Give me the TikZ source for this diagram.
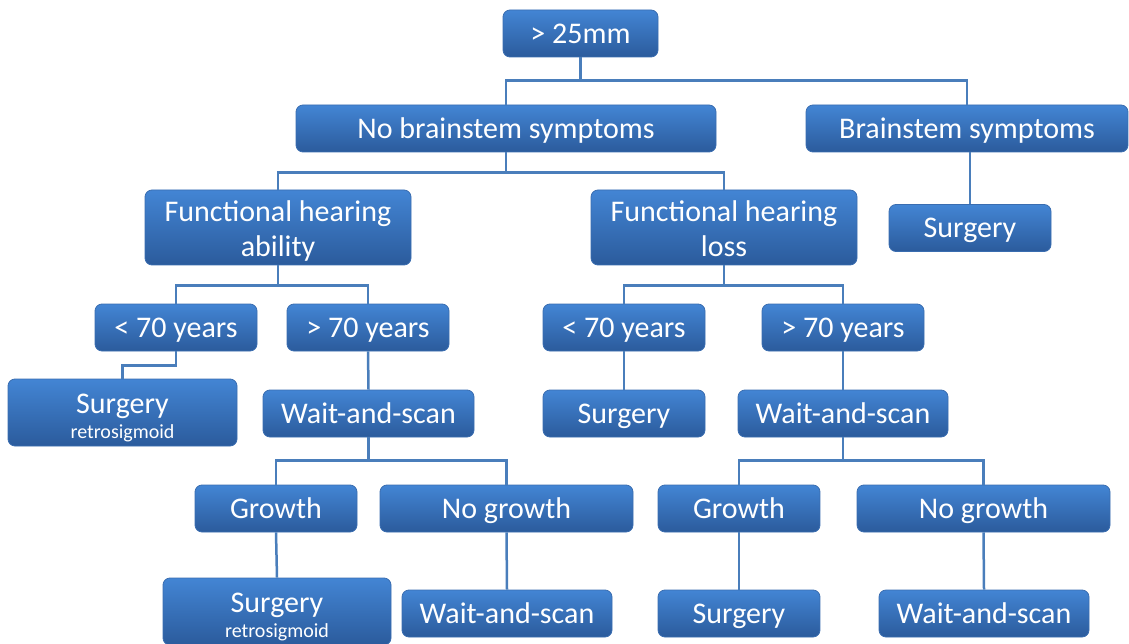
\documentclass[tikz,border=0pt]{standalone}
\usepackage{fontspec}
\setmainfont{Carlito}
\usepackage{xcolor}
\usepackage{tikz}
\usetikzlibrary{calc, positioning}

\definecolor{boxtop}{HTML}{4385D4}
\definecolor{boxbot}{HTML}{2B5B9C}
\definecolor{boxline}{HTML}{3A6DB0}
\definecolor{linkblue}{HTML}{4A7EBB}
\newcommand{\smalltxt}[1]{{\fontsize{20}{22}\selectfont #1}}

\begin{document}
\begin{tikzpicture}[x=1pt, y=-1pt,
    boxbase/.style={draw=boxline, line width=0.8pt, rounded corners=7pt, top color=boxtop, bottom color=boxbot, text=white, font=\fontsize{30}{35}\selectfont, inner sep=0pt, minimum height=47pt, minimum width=162pt, align=center},
    box/.style={boxbase, text height=26pt, text depth=6pt},
    twoline/.style={boxbase, minimum width=266pt, minimum height=75pt, text height=65pt, text depth=6pt},
    subline/.style={boxbase, minimum height=67pt, text height=55pt, text depth=4pt},
    link/.style={draw=linkblue, line width=2.5pt}]
      \useasboundingbox (0,0) rectangle (1129,644);
      % tumour size and brainstem
      \node[box, minimum width=155pt] (size) at (580.5,33.5) {> 25mm};
      \node[box, minimum width=420pt] (nobs) at (506,128.5) {No brainstem symptoms};
      \node[box, minimum width=322pt] (bs) at (967,128.5) {Brainstem symptoms};
      \node[box] (surg_bs) at (970,228) {Surgery};
      % hearing
      \node[twoline] (fha) at (278,227.5) {Functional hearing\\ability};
      \node[twoline] (fhl) at (724,227.5) {Functional hearing\\loss};
      % age
      \node[box] (young_a) at (176,327.5) {< 70 years};
      \node[box] (old_a) at (368,327.5) {> 70 years};
      \node[box] (young_l) at (624,327.5) {< 70 years};
      \node[box] (old_l) at (843,327.5) {> 70 years};
      % first treatment
      \node[subline, minimum width=229pt] (surg_a) at (122.5,412.5) {Surgery\\[-10pt]\smalltxt{retrosigmoid}};
      \node[box, minimum width=211pt] (wait_a) at (368.5,413.5) {Wait-and-scan};
      \node[box] (surg_l) at (624,413.5) {Surgery};
      \node[box, minimum width=210pt] (wait_l) at (843,413.5) {Wait-and-scan};
      % follow-up
      \node[box] (grow_a) at (276,508.5) {Growth};
      \node[box, minimum width=253pt] (nogrow_a) at (506.5,508.5) {No growth};
      \node[box] (grow_l) at (739,508.5) {Growth};
      \node[box, minimum width=253pt] (nogrow_l) at (983.5,508.5) {No growth};
      \node[subline, minimum width=228pt] (surg_ga) at (277,611.5) {Surgery\\[-10pt]\smalltxt{retrosigmoid}};
      \node[box, minimum width=210pt] (wait_na) at (507,613.5) {Wait-and-scan};
      \node[box] (surg_gl) at (739,613.5) {Surgery};
      \node[box, minimum width=210pt] (wait_nl) at (984,613.5) {Wait-and-scan};
      % connectors
      \draw[link] (size.south) -- ++(0,23) -| (nobs.north);
      \draw[link] (size.south) -- ++(0,23) -| (bs.north);
      \draw[link] (bs.south -| surg_bs.north) -- (surg_bs.north);
      \draw[link] (nobs.south) -- ++(0,20) -| (fha.north);
      \draw[link] (nobs.south) -- ++(0,20) -| (fhl.north);
      \draw[link] (fha.south) -- ++(0,20) -| (young_a.north);
      \draw[link] (fha.south) -- ++(0,20) -| (old_a.north);
      \draw[link] (fhl.south) -- ++(0,20) -| (young_l.north);
      \draw[link] (fhl.south) -- ++(0,20) -| (old_l.north);
      \draw[link] (young_a.south) -- ++(0,14) -| (surg_a.north);
      \draw[link] (old_a.south) -- (wait_a.north);
      \draw[link] (young_l.south) -- (surg_l.north);
      \draw[link] (old_l.south) -- (wait_l.north);
      \draw[link] (wait_a.south) -- ++(0,23) -| (grow_a.north);
      \draw[link] (wait_a.south) -- ++(0,23) -| (nogrow_a.north);
      \draw[link] (wait_l.south) -- ++(0,23) -| (grow_l.north);
      \draw[link] (wait_l.south) -- ++(0,23) -| (nogrow_l.north);
      \draw[link] (grow_a.south) -- (surg_ga.north);
      \draw[link] (nogrow_a.south) -- (wait_na.north);
      \draw[link] (grow_l.south) -- (surg_gl.north);
      \draw[link] (nogrow_l.south) -- (wait_nl.north);
\end{tikzpicture}
\end{document}
